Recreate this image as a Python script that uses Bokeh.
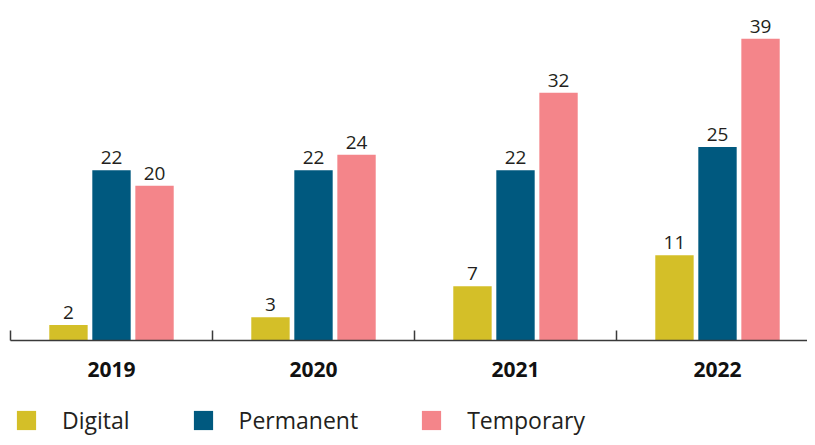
from bokeh.plotting import figure
from bokeh.layouts import column
from bokeh.models import ColumnDataSource, Range1d, FixedTicker, Legend, LegendItem, LabelSet
from bokeh.core.properties import value
from bokeh.transform import dodge
from bokeh.embed import file_html
from bokeh.resources import INLINE

years = ["2019", "2020", "2021", "2022"]
digital = [2, 3, 7, 11]
permanent = [22, 22, 22, 25]
temporary = [20, 24, 32, 39]
series_names = ["Digital", "Permanent", "Temporary"]
colors = ["#D4BF28", "#00597F", "#F4858A"]

xpos = [1, 2, 3, 4]
src = ColumnDataSource(dict(
    x=xpos, Digital=digital, Permanent=permanent, Temporary=temporary,
    Digital_t=[str(v) for v in digital],
    Permanent_t=[str(v) for v in permanent],
    Temporary_t=[str(v) for v in temporary],
))

FONT = "Open Sans"
p = figure(width=807, height=400, output_backend="svg", toolbar_location=None,
           x_range=Range1d(0.5, 0.5 + 797 / 202), y_range=Range1d(0, 340 / 7.74),
           min_border_left=10, min_border_right=0, min_border_top=0, min_border_bottom=60)
p.outline_line_color = None
p.grid.grid_line_color = None
p.yaxis.visible = False

offsets = [-0.213, 0.0, 0.213]
for name, col, off in zip(series_names, colors, offsets):
    p.vbar(x=dodge("x", off, range=p.x_range), top=name, width=0.19, source=src,
           fill_color=col, line_color=None)
    lab = LabelSet(x=dodge("x", off, range=p.x_range), y=name, text=name + "_t", source=src,
                   text_align="center", text_baseline="bottom", y_offset=6,
                   text_font=value(FONT), text_font_size="19px", text_color="#231f20")
    p.add_layout(lab)

ax = p.xaxis[0]
ax.ticker = FixedTicker(ticks=xpos, minor_ticks=[0.5, 1.5, 2.5, 3.5])
ax.major_label_overrides = {x: y for x, y in zip(xpos, years)}
ax.major_tick_line_color = None
ax.major_tick_in = 0
ax.major_tick_out = 0
ax.minor_tick_in = 10
ax.minor_tick_out = 0
ax.minor_tick_line_color = "#3a3a3a"
ax.minor_tick_line_width = 1.5
ax.axis_line_color = "#3a3a3a"
ax.axis_line_width = 1.5
ax.major_label_standoff = 21
ax.major_label_text_font = FONT
ax.major_label_text_font_style = "bold"
ax.major_label_text_font_size = "21px"
ax.major_label_text_color = "#111111"

# legend strip below the chart (its bars sit outside the visible range)
leg = figure(width=807, height=37, output_backend="svg", toolbar_location=None,
             x_axis_type=None, y_axis_type=None, x_range=Range1d(-10, -9), y_range=Range1d(0, 1),
             min_border_left=0, min_border_right=0, min_border_top=0, min_border_bottom=0)
leg.outline_line_color = None
leg.grid.grid_line_color = None
items = []
for name, col in zip(series_names, colors):
    r = leg.vbar(x="x", top=name, width=0.19, source=src, fill_color=col, line_color=None)
    items.append(LegendItem(label=name, renderers=[r]))
legend = Legend(items=items, orientation="horizontal", location=(4, 1),
                glyph_width=24, glyph_height=24, label_height=24, label_standoff=24, spacing=61,
                label_text_font=FONT, label_text_font_size="23px", label_text_color="#231f20",
                border_line_color=None, background_fill_alpha=0, padding=0, margin=0)
leg.add_layout(legend, "center")

layout = column(p, leg, spacing=0)
open("out.html", "w").write(file_html(layout, INLINE))
